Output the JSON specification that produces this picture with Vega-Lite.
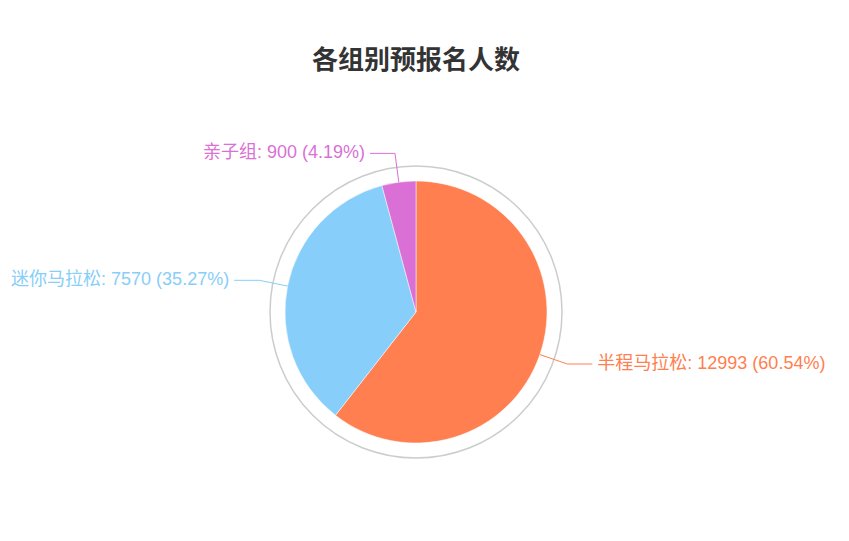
{
  "$schema": "https://vega.github.io/schema/vega-lite/v6.json",
  "width": 832,
  "height": 424,
  "autosize": {"type": "none"},
  "padding": {"left": 0, "top": 100, "right": 17, "bottom": 17},
  "background": "white",
  "title": {
    "text": "各组别预报名人数",
    "font": "Liberation Sans, Noto Sans CJK SC",
    "fontSize": 26,
    "fontWeight": "bold",
    "color": "#333333",
    "anchor": "middle",
    "offset": 26
  },
  "config": {"view": {"stroke": null}},
  "data": {
    "values": [
      {"idx": 1, "group": "半程马拉松", "count": 12993},
      {"idx": 2, "group": "迷你马拉松", "count": 7570},
      {"idx": 3, "group": "亲子组", "count": 900}
    ]
  },
  "transform": [
    {"window": [{"op": "sum", "field": "count", "as": "cum"}], "sort": [{"field": "idx"}], "frame": [null, 0]},
    {"joinaggregate": [{"op": "sum", "field": "count", "as": "total"}]},
    {"calculate": "(datum.cum - datum.count / 2) / datum.total * 2 * PI", "as": "mid"},
    {"calculate": "sin(datum.mid) >= 0 ? 1 : -1", "as": "side"},
    {"calculate": "131 * sin(datum.mid)", "as": "x1"},
    {"calculate": "131 * cos(datum.mid)", "as": "y1"},
    {"calculate": "160 * sin(datum.mid)", "as": "x2"},
    {"calculate": "160 * cos(datum.mid)", "as": "y2"},
    {"calculate": "datum.x2 + datum.side * 25", "as": "x3"},
    {"calculate": "datum.x3 + datum.side * 5", "as": "xt"},
    {"calculate": "datum.group + ': ' + datum.count + ' (' + format(datum.count / datum.total, '.2%') + ')'", "as": "label"}
  ],
  "encoding": {
    "color": {
      "field": "group",
      "type": "nominal",
      "scale": {
        "domain": ["半程马拉松", "迷你马拉松", "亲子组"],
        "range": ["#FF7F50", "#87CEFA", "#DA70D6"]
      },
      "legend": null
    }
  },
  "layer": [
    {
      "data": {"values": [{"ring": 1}]},
      "mark": {
        "type": "arc",
        "theta": 0,
        "theta2": 6.2832,
        "outerRadius": 146,
        "innerRadius": 0,
        "fill": "transparent",
        "stroke": "#cccccc",
        "strokeWidth": 1.5
      },
      "encoding": {"color": {"value": "transparent"}}
    },
    {
      "mark": {"type": "arc", "outerRadius": 131, "stroke": "white", "strokeWidth": 0.5},
      "encoding": {
        "theta": {"field": "count", "type": "quantitative", "stack": true},
        "order": {"field": "idx", "type": "quantitative"}
      }
    },
    {
      "mark": {"type": "rule", "strokeWidth": 1},
      "encoding": {
        "x": {"field": "x1", "type": "quantitative", "scale": {"domain": [-416, 416], "nice": false, "zero": false}, "axis": null},
        "y": {"field": "y1", "type": "quantitative", "scale": {"domain": [-212, 212], "nice": false, "zero": false}, "axis": null},
        "x2": {"field": "x2"},
        "y2": {"field": "y2"}
      }
    },
    {
      "mark": {"type": "rule", "strokeWidth": 1},
      "encoding": {
        "x": {"field": "x2", "type": "quantitative", "scale": {"domain": [-416, 416], "nice": false, "zero": false}, "axis": null},
        "y": {"field": "y2", "type": "quantitative", "scale": {"domain": [-212, 212], "nice": false, "zero": false}, "axis": null},
        "x2": {"field": "x3"}
      }
    },
    {
      "transform": [{"filter": "datum.side > 0"}],
      "mark": {"type": "text", "align": "left", "baseline": "middle", "fontSize": 18, "font": "Liberation Sans, Noto Sans CJK SC"},
      "encoding": {
        "x": {"field": "xt", "type": "quantitative", "scale": {"domain": [-416, 416], "nice": false, "zero": false}, "axis": null},
        "y": {"field": "y2", "type": "quantitative", "scale": {"domain": [-212, 212], "nice": false, "zero": false}, "axis": null},
        "text": {"field": "label"}
      }
    },
    {
      "transform": [{"filter": "datum.side < 0"}],
      "mark": {"type": "text", "align": "right", "baseline": "middle", "fontSize": 18, "font": "Liberation Sans, Noto Sans CJK SC"},
      "encoding": {
        "x": {"field": "xt", "type": "quantitative", "scale": {"domain": [-416, 416], "nice": false, "zero": false}, "axis": null},
        "y": {"field": "y2", "type": "quantitative", "scale": {"domain": [-212, 212], "nice": false, "zero": false}, "axis": null},
        "text": {"field": "label"}
      }
    }
  ]
}
